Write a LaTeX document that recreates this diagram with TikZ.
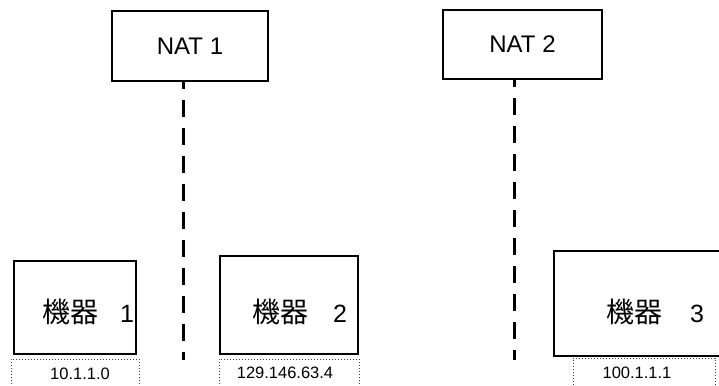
\documentclass[tikz,border=0pt]{standalone}
\usepackage{fontspec}
\setmainfont{Liberation Sans}
\newfontfamily\cjk{Noto Sans CJK JP}
\begin{document}
\begin{tikzpicture}[x=1pt,y=-1pt,
  natbox/.style={draw, line width=2pt, inner sep=0pt, font=\fontsize{24}{24}\selectfont},
  devbox/.style={draw, line width=2pt, inner sep=0pt},
  devtext/.style={anchor=west, inner sep=0pt, font=\fontsize{25}{25}\selectfont},
  ipframe/.style={draw=black!75, line width=1pt, dash pattern=on 1pt off 2pt, inner sep=0pt},
  iptext/.style={inner sep=0pt, font=\fontsize{16.5}{16.5}\selectfont},
  link/.style={line width=3pt, dash pattern=on 17pt off 11pt, dash phase=10pt}
]
\useasboundingbox (0,0) rectangle (719,385);
\clip (0,0) rectangle (719,385);

% NAT boxes
\node[natbox, minimum width=156pt, minimum height=70pt] (nat1) at (190,46) {NAT 1};
\node[natbox, minimum width=159pt, minimum height=69pt] (nat2) at (522.5,44.5) {NAT 2};

% dashed lines
\coordinate (l1bot) at (183,360);
\coordinate (l2bot) at (514.5,360);
\draw[link] (nat1.south -| l1bot) -- (l1bot);
\draw[link] (nat2.south -| l2bot) -- (l2bot);

% devices
\node[devbox, minimum width=122pt, minimum height=93pt] (dev1) at (75,307.5) {};
\node[devbox, minimum width=138pt, minimum height=98pt] (dev2) at (289,305) {};
\node[devbox, minimum width=206pt, minimum height=105pt] (dev3) at (657,303.5) {};

\node[devtext] (t1) at (42,312) {{\cjk\fontsize{28}{28}\selectfont 機器}\hspace{22pt}1};
\node[devtext] (t2) at (252,312) {{\cjk\fontsize{28}{28}\selectfont 機器}\hspace{25pt}2};
\node[devtext] (t3) at (606,312) {{\cjk\fontsize{28}{28}\selectfont 機器}\hspace{28pt}3};

% address frames
\node[ipframe, minimum width=128pt, minimum height=50pt] (f1) at (75,384) {};
\node[ipframe, minimum width=140pt, minimum height=50pt] (f2) at (289,384) {};
\node[ipframe, minimum width=142pt, minimum height=50pt] (f3) at (644,383) {};

\node[iptext] (a1) at (80,374) {10.1.1.0};
\node[iptext] (a2) at (285,373) {129.146.63.4};
\node[iptext] (a3) at (637,373) {100.1.1.1};
\end{tikzpicture}
\end{document}
